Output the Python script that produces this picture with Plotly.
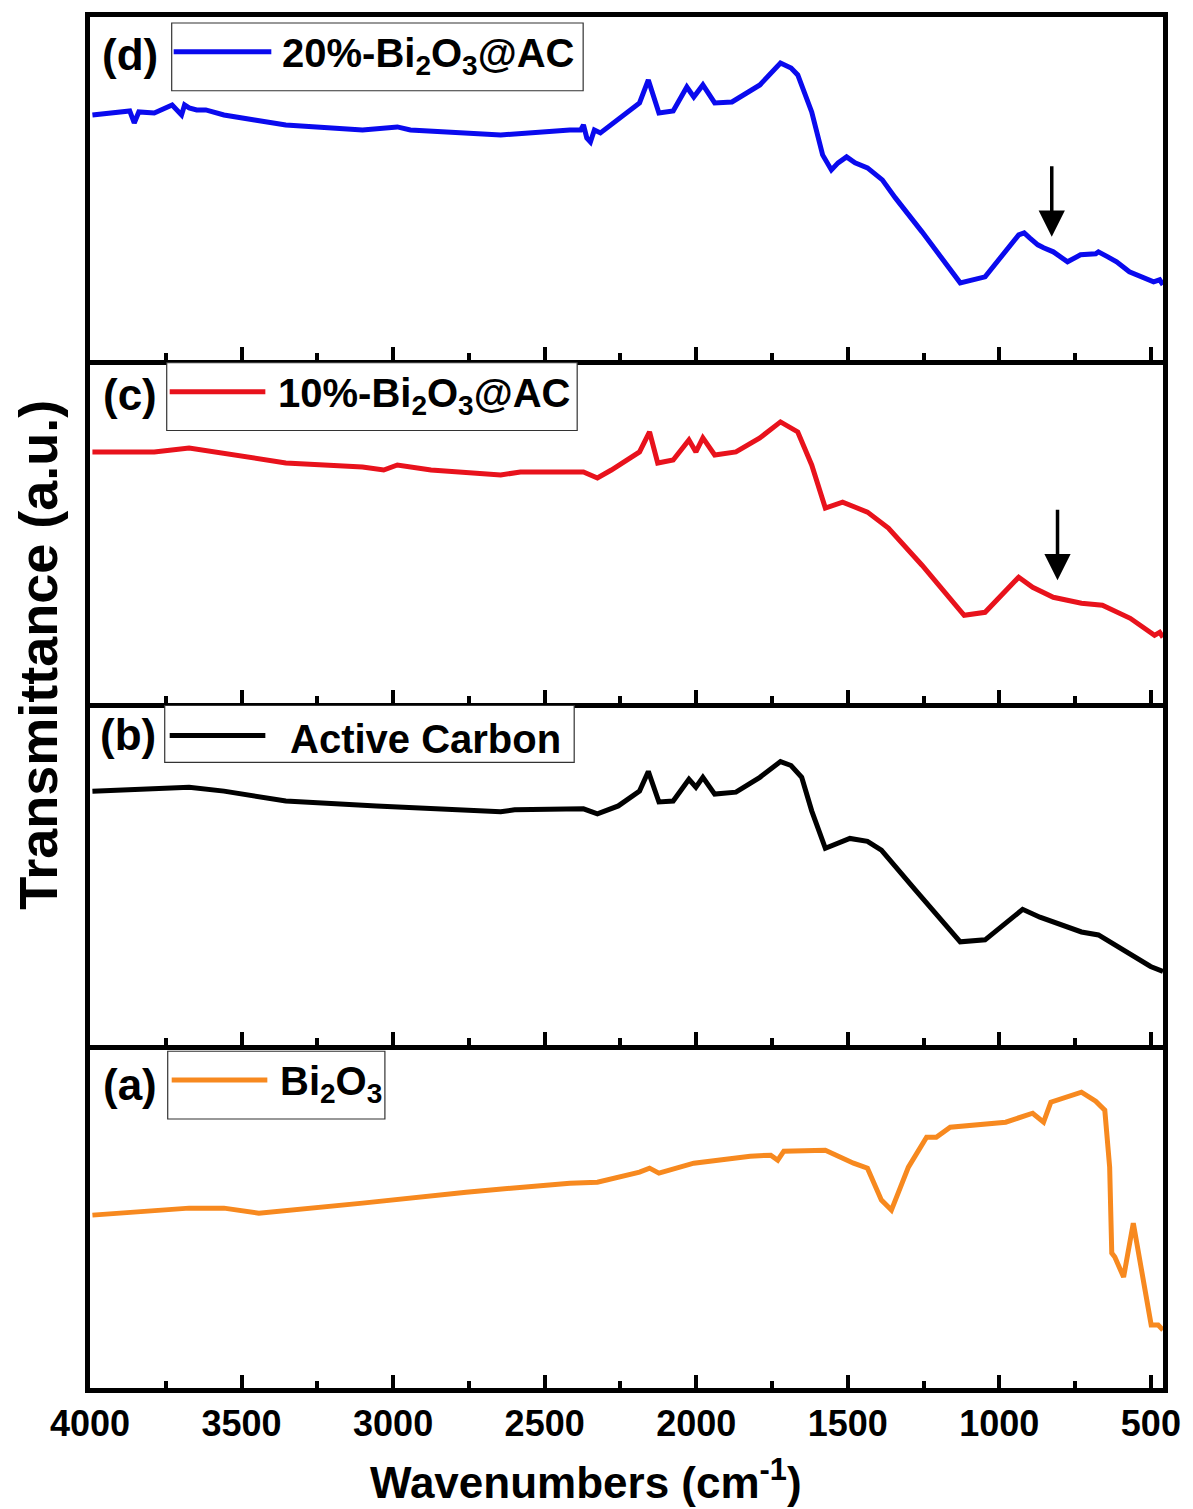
import plotly.graph_objects as go
from plotly.subplots import make_subplots

# ---------------- data ----------------
wn_d = [3992, 3932, 3869, 3854, 3839, 3788, 3729, 3698, 3688, 3673, 3648, 3618, 3558, 3457, 3354, 3101, 2986,
        2943, 2645, 2417, 2381, 2372, 2361, 2349, 2336, 2316, 2187, 2158, 2123, 2076, 2031, 2008, 1978,
        1939, 1882, 1790, 1722, 1687, 1665, 1619, 1583, 1554, 1532, 1504, 1476, 1435, 1386, 1343, 1255,
        1129, 1047, 936, 918, 900, 873, 854, 822, 775, 732, 682, 673, 642, 613, 571, 525, 491, 471, 460]
tr_d = [245, 247, 249, 237, 248, 247, 255, 245, 255, 252, 250, 250, 245, 240, 235, 230, 233,
        230, 225, 230, 230, 235, 222, 218, 230, 227, 257, 280, 247, 249, 273, 263, 275,
        257, 258, 275, 297, 292, 285, 248, 205, 190, 197, 203, 197, 192, 180, 162, 128,
        77, 83, 125, 127, 122, 115, 112, 108, 98, 105, 106, 108, 103, 98, 88, 82, 78, 80, 75]

wn_c = [3992, 3788, 3673, 3558, 3354, 3101, 3031, 2986, 2875, 2645, 2580, 2372, 2326, 2280, 2187, 2154,
        2127, 2076, 2024, 2001, 1978, 1939, 1869, 1790, 1722, 1665, 1619, 1574, 1517, 1435, 1366,
        1255, 1116, 1047, 936, 890, 822, 729, 660, 568, 488, 471, 460]
tr_c = [250, 250, 254, 249, 239, 235, 232, 237, 232, 227, 230, 230, 224, 232, 250, 270,
        239, 242, 262, 250, 264, 247, 250, 264, 280, 270, 237, 194, 200, 190, 174,
        137, 87, 90, 125, 115, 105, 99, 97, 84, 67, 70, 65]

wn_b = [3992, 3788, 3673, 3558, 3354, 3055, 2645, 2599, 2372, 2326, 2257, 2187, 2158, 2123, 2076,
        2024, 2001, 1978, 1939, 1869, 1790, 1722, 1687, 1652, 1619, 1574, 1493, 1435, 1389, 1278, 1129, 1047,
        923, 866, 729, 673, 568, 501, 460]
tr_b = [258, 260, 262, 258, 248, 243, 237, 239, 240, 235, 243, 258, 278, 247, 248,
        270, 262, 272, 255, 257, 272, 288, 284, 272, 238, 200, 210, 207, 198, 158, 105, 107,
        138, 130, 115, 112, 92, 80, 75]

wn_a = [3992, 3673, 3558, 3443, 3101, 2759, 2417, 2326, 2187, 2154, 2123, 2008, 1822, 1754, 1731,
        1711, 1574, 1481, 1435, 1389, 1356, 1300, 1240, 1208, 1162, 979, 890, 854, 830, 729,
        682, 662, 652, 636, 629, 619, 590, 558, 525, 499, 476, 460]
tr_a = [173, 180, 180, 175, 185, 196, 205, 206, 216, 220, 215, 225, 232, 233, 228,
        237, 238, 225, 220, 188, 178, 221, 251, 251, 261, 266, 275, 266, 286, 296,
        287, 281, 278, 221, 135, 131, 111, 165, 105, 63, 63, 58]

series = [
    dict(name="20%-Bi<sub>2</sub>O<sub>3</sub>@AC", tag="(d)", wn=wn_d, tr=tr_d, color="#0a0aee"),
    dict(name="10%-Bi<sub>2</sub>O<sub>3</sub>@AC", tag="(c)", wn=wn_c, tr=tr_c, color="#e8121c"),
    dict(name="Active Carbon", tag="(b)", wn=wn_b, tr=tr_b, color="#000000"),
    dict(name="Bi<sub>2</sub>O<sub>3</sub>", tag="(a)", wn=wn_a, tr=tr_a, color="#f7891f"),
]
y_ranges = [[0, 343], [0, 342], [0, 348], [0, 343]]
arrow_wn = [827, 808]
arrow_tip = [123, 122]

# ---------------- figure ----------------
W, H = 1193, 1509
L, R, T, B = 90, 26, 12, 121
fig = make_subplots(rows=4, cols=1, shared_xaxes=True, vertical_spacing=0)

for i, s in enumerate(series):
    fig.add_trace(go.Scatter(x=s["wn"], y=s["tr"], mode="lines", name=s["name"],
                             line=dict(color=s["color"], width=5), showlegend=False),
                  row=i + 1, col=1)

FONT = "Arial, Liberation Sans, sans-serif"
for i in range(4):
    r = i + 1
    fig.update_xaxes(row=r, col=1, range=[4000, 460], showgrid=False, zeroline=False,
                     showline=True, linecolor="black", linewidth=5, mirror=(r == 1),
                     ticks="inside", ticklen=13, tickwidth=4, tickcolor="black",
                     tick0=0, dtick=500,
                     minor=dict(ticks="inside", ticklen=7, tickwidth=4, tickcolor="black", dtick=250, tick0=0),
                     showticklabels=(r == 4),
                     tickfont=dict(family=FONT, size=36, color="black", weight="bold"),
                     ticklabelstandoff=0)
    fig.update_yaxes(row=r, col=1, range=y_ranges[i], showgrid=False, zeroline=False,
                     showline=True, linecolor="black", linewidth=5, mirror=True,
                     ticks="", showticklabels=False)


def px(x):
    return (x - L) / (W - L - R)


def py(y):
    return (H - B - y) / (H - T - B)


# legend boxes (pixel geometry from the reference)
legend_geo = [
    dict(box=(172, 18, 585, 86), line=(174, 272, 47), text_x=281, tag_x=130, tag_y=50),
    dict(box=(167, 359, 579, 427), line=(170, 266, 388), text_x=277, tag_x=130, tag_y=391),
    dict(box=(165, 703, 576, 760), line=(170, 266, 733), text_x=289, tag_x=128, tag_y=732),
    dict(box=(168, 1050, 386, 1118), line=(172, 268, 1079), text_x=279, tag_x=130, tag_y=1083),
]
for s, g in zip(series, legend_geo):
    x0, y0, x1, y1 = g["box"]
    fig.add_shape(type="rect", xref="paper", yref="paper", x0=px(x0), x1=px(x1), y0=py(y1), y1=py(y0),
                  line=dict(color="#333333", width=1.2), fillcolor="white")
    lx0, lx1, ly = g["line"]
    fig.add_shape(type="line", xref="paper", yref="paper", x0=px(lx0), x1=px(lx1), y0=py(ly), y1=py(ly),
                  line=dict(color=s["color"], width=5))
    fig.add_annotation(xref="paper", yref="paper", x=px(g["text_x"]), y=py(ly + 4), xanchor="left",
                       yanchor="middle", showarrow=False, text="<b>" + s["name"] + "</b>",
                       font=dict(family=FONT, size=40, color="black"))
    fig.add_annotation(xref="paper", yref="paper", x=px(g["tag_x"]), y=py(g["tag_y"]), xanchor="center",
                       yanchor="middle", showarrow=False, text="<b>" + s["tag"] + "</b>",
                       font=dict(family=FONT, size=44, color="black"))

# arrows in panels (d) and (c)
for i in range(2):
    ax_name = "x" if i == 0 else "x2"
    ay_name = "y" if i == 0 else "y2"
    fig.add_annotation(xref=ax_name, yref=ay_name, x=arrow_wn[i], y=arrow_tip[i], text="",
                       showarrow=True, arrowhead=2, arrowsize=1.5, arrowwidth=3.5,
                       arrowcolor="black", ax=0, ay=-72, standoff=0)

# axis titles
fig.add_annotation(xref="paper", yref="paper", x=px(37), y=py(652), textangle=-90, showarrow=False,
                   xanchor="center", yanchor="middle", text="<b>Transmittance (a.u.)</b>",
                   font=dict(family=FONT, size=54, color="black"))
fig.add_annotation(xref="paper", yref="paper", x=px(588), y=py(1480), showarrow=False,
                   xanchor="center", yanchor="middle", text="<b>Wavenumbers (cm<sup>-1</sup>)</b>",
                   font=dict(family=FONT, size=44, color="black"))

fig.update_layout(width=W, height=H, margin=dict(l=L, r=R, t=T, b=B),
                  paper_bgcolor="white", plot_bgcolor="white", showlegend=False)

fig.write_html("out.html")
